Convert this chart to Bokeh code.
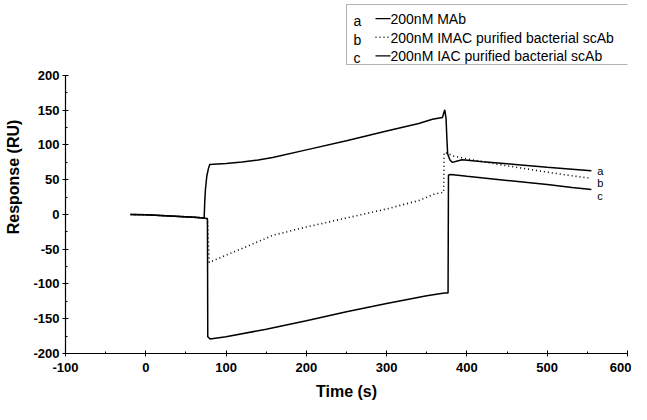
from bokeh.plotting import figure
from bokeh.models import Range1d, Label, Arrow, BoxAnnotation, FixedTicker
from bokeh.embed import file_html
from bokeh.resources import INLINE

# ---------------- data ----------------
x_major = [-100, 0, 100, 200, 300, 400, 500, 600]
x_minor = [-50, 50, 150, 250, 350, 450, 550]
y_major = [-200, -150, -100, -50, 0, 50, 100, 150, 200]
y_minor = [-175, -125, -75, -25, 25, 75, 125, 175]

# a: 200nM MAb
t_a = [-19, 0, 30, 60, 72.7, 73.5, 74.3, 76, 78, 79.7, 100, 120, 140, 158, 200, 250, 300, 340, 357,
       369.5, 372.4, 374, 375, 376, 379, 382, 388, 394, 420, 460, 500, 531, 555]
r_a = [0, -0.5, -2, -4, -5, 20, 36, 55, 66, 72, 73.5, 75.5, 78.5, 82, 93, 106, 120, 131, 137,
       139.6, 150.6, 138, 110, 87, 78, 75, 77, 78.7, 76, 72, 68, 65.2, 63]

# b: 200nM IMAC purified bacterial scAb
t_b = [-19, 0, 30, 60, 72.7, 76.8, 79, 100, 130, 158, 200, 250, 300, 340, 359, 371, 371.6,
       376, 382, 400, 450, 500, 531, 555]
r_b = [0, -0.5, -2, -4, -5, -6, -69, -58.5, -44, -30, -18, -5, 8, 20, 29.2, 32, 89.2,
       88, 84.5, 80, 70, 61, 55.7, 52]

# c: 200nM IAC purified bacterial scAb
t_c = [-19, 0, 30, 60, 72.7, 76.8, 77.2, 80, 100, 150, 200, 250, 300, 350, 372, 376.5, 377,
       380, 400, 450, 500, 531, 555]
r_c = [0, -0.5, -2, -4, -5, -6, -176, -179, -176, -165, -153, -140, -128, -117, -113, -113, 57,
       57.6, 55, 49, 43, 38.8, 36]

legend_letters = ["a", "b", "c"]
legend_texts = ["200nM MAb", "200nM IMAC purified bacterial scAb", "200nM IAC purified bacterial scAb"]
line_dashes = ["solid", "1 3", "solid"]

# ---------------- layout ----------------
W, H = 631, 404
BL, BR, BT, BB = 65, 4, 0, 51
X0, X1 = -100, 600
Y0, Y1 = -200, 307.9
FONT = "Liberation Sans"


def px2t(px):
    return X0 + (px - 8 - BL) / (W - BL - BR) * (X1 - X0)


def py2r(py):
    return Y0 + ((H - BB) - (py - 8)) / (H - BT - BB) * (Y1 - Y0)


p = figure(width=W, height=H, x_range=Range1d(X0, X1), y_range=Range1d(Y0, Y1),
           output_backend="svg", toolbar_location=None,
           min_border_left=BL, min_border_right=BR, min_border_top=BT, min_border_bottom=BB)
p.outline_line_color = None
p.grid.visible = False
p.background_fill_color = "white"
p.border_fill_color = "white"

for ax, maj, mino, bnds in ((p.xaxis[0], x_major, x_minor, (X0, X1)),
                            (p.yaxis[0], y_major, y_minor, (-200, 200))):
    ax.ticker = FixedTicker(ticks=maj, minor_ticks=mino)
    ax.major_label_overrides = {v: str(v) for v in maj}
    ax.bounds = bnds
    ax.axis_line_color = "black"
    ax.axis_line_width = 1.2
    ax.major_tick_line_color = "black"
    ax.minor_tick_line_color = "black"
    ax.major_tick_in = 3
    ax.major_tick_out = 3
    ax.minor_tick_in = 2
    ax.minor_tick_out = 0
    ax.major_label_text_font = FONT
    ax.major_label_text_font_style = "bold"
    ax.major_label_text_font_size = "13px"
    ax.major_label_text_color = "black"
    ax.axis_label_text_font = FONT
    ax.axis_label_text_font_style = "bold"
    ax.axis_label_text_font_size = "16px"
    ax.axis_label_text_color = "black"

p.xaxis.axis_label = "Time (s)"
p.yaxis.axis_label = "Response (RU)"
p.xaxis.major_label_standoff = 6
p.xaxis.axis_label_standoff = 8
p.yaxis.major_label_standoff = 3
p.yaxis.axis_label_standoff = 8

series = [(t_a, r_a), (t_b, r_b), (t_c, r_c)]
for (ts, rs), dash in zip(series, line_dashes):
    p.line(ts, rs, line_color="black", line_width=1.5 if dash == "solid" else 1.6,
           line_dash=dash)

# end labels a, b, c
end_offsets = [0, -5, -7]
for (ts, rs), letter, dy in zip(series, legend_letters, end_offsets):
    p.add_layout(Label(x=ts[-1], y=rs[-1], text=letter, x_offset=6, y_offset=dy,
                       text_font=FONT, text_font_size="11px", text_baseline="middle",
                       text_color="black"))

# legend box (hand drawn like the original)
p.add_layout(BoxAnnotation(left=px2t(354), right=px2t(645), top=py2r(12), bottom=py2r(72),
                           fill_alpha=0, line_color="black", line_width=1))
row_base = [26.7, 45.3, 63.8]
letter_base = [28.5, 47, 65.5]
for i in range(3):
    p.add_layout(Label(x=px2t(361), y=py2r(letter_base[i]), text=legend_letters[i],
                       text_font=FONT, text_font_size="14px", text_baseline="alphabetic",
                       text_color="black"))
    p.add_layout(Arrow(x_start=px2t(383), y_start=py2r(row_base[i] - 0.5),
                       x_end=px2t(398), y_end=py2r(row_base[i] - 0.5), start=None, end=None,
                       line_color="black", line_width=1.3 if line_dashes[i] == "solid" else 1.6,
                       line_dash=line_dashes[i]))
    p.add_layout(Label(x=px2t(398), y=py2r(row_base[i]), text=legend_texts[i],
                       text_font=FONT, text_font_size="14px", text_baseline="alphabetic",
                       text_color="black"))

open("out.html", "w").write(file_html(p, INLINE))
